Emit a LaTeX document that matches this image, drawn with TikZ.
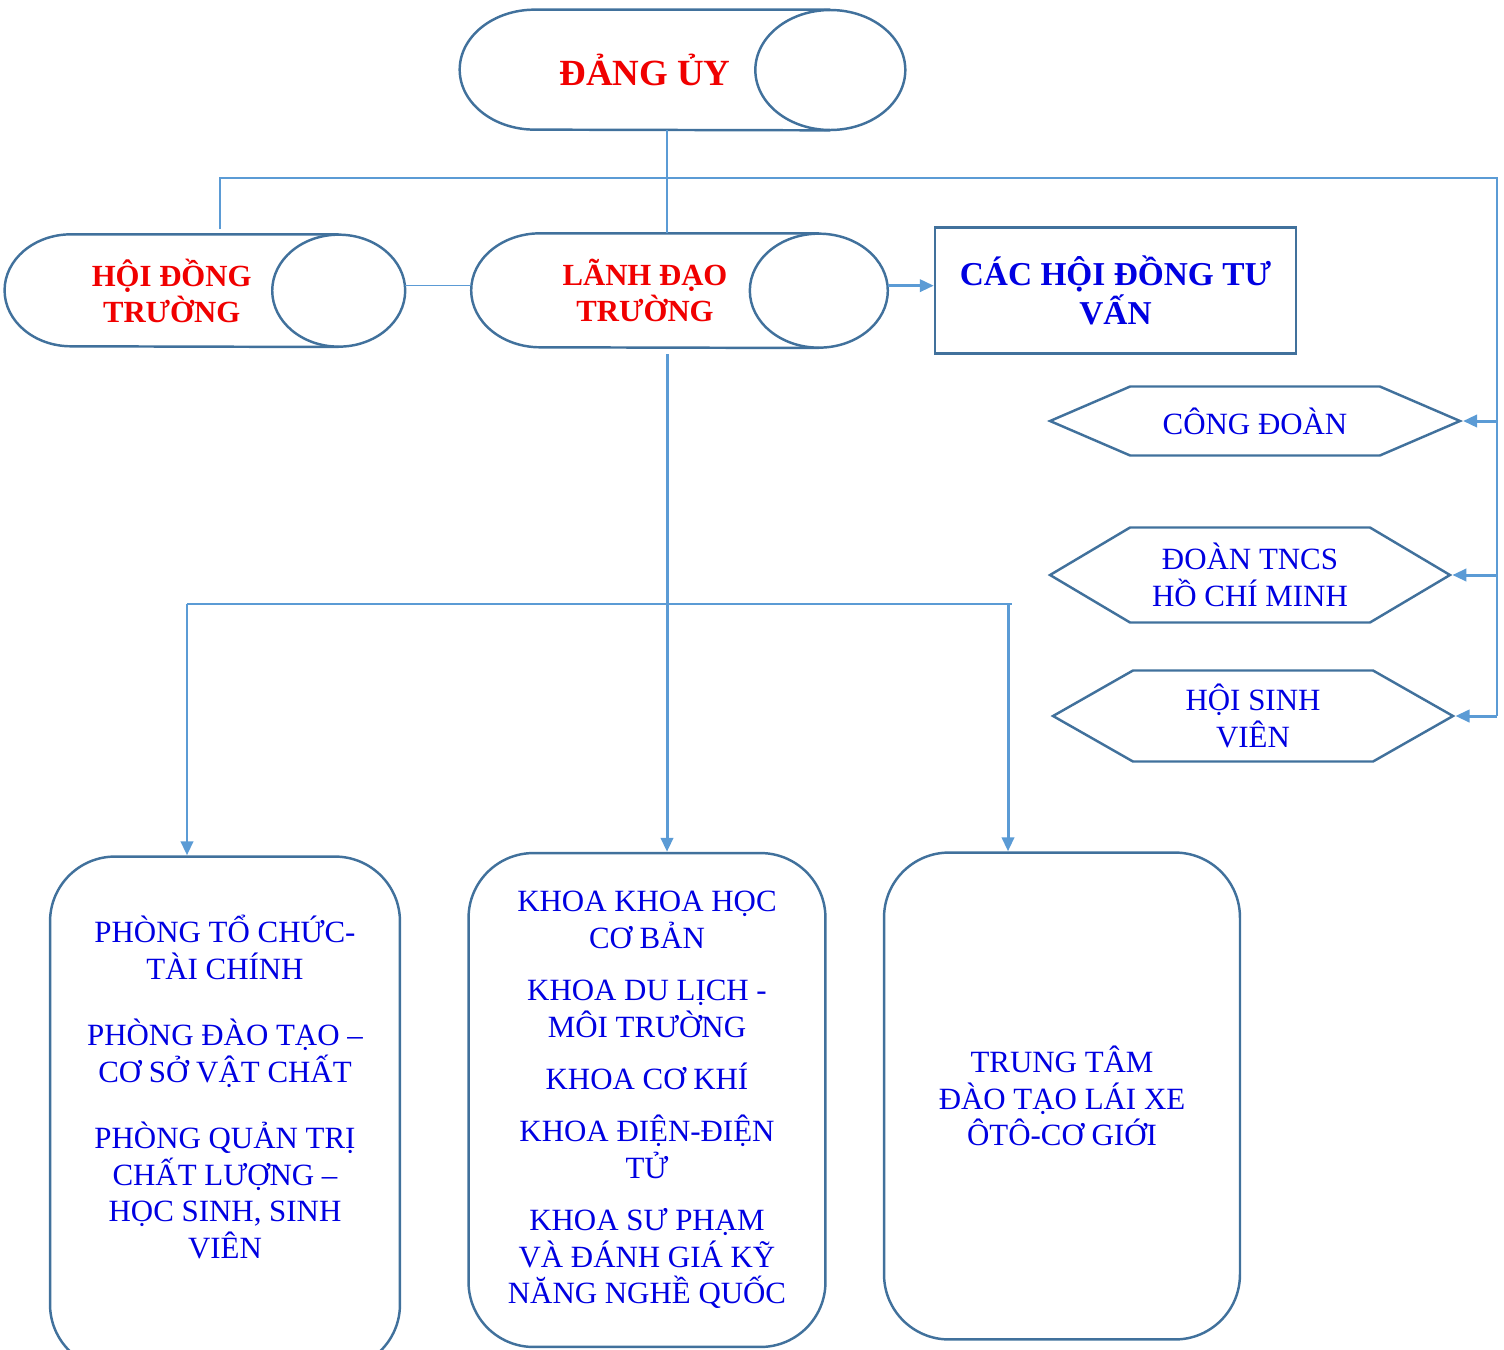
\documentclass[tikz,border=0pt]{standalone}
\usepackage{fontspec}
\setmainfont{Liberation Serif}
\usetikzlibrary{positioning}
\usetikzlibrary{calc}
\usetikzlibrary{arrows.meta}
\usetikzlibrary{shapes.symbols}
\definecolor{edgeblue}{RGB}{65,113,156}
\definecolor{linkblue}{RGB}{91,155,213}
\definecolor{titlered}{RGB}{240,0,0}
\definecolor{textblue}{RGB}{0,0,225}

\tikzset{
  can/.style={rectangle, align=center, text=titlered, font=\fontsize{17.5}{20.5}\selectfont\bfseries},
  canline/.style={draw=edgeblue, line width=1.4pt},
  hexa/.style={signal, signal to=east and west, draw=edgeblue, line width=1.4pt,
    align=center, text=textblue, font=\fontsize{17.6}{21}\selectfont},
  unit/.style={rectangle, rounded corners=1.3cm, draw=edgeblue, line width=1.4pt,
    align=center, text=textblue, font=\fontsize{17.6}{20.8}\selectfont},
  thinlink/.style={draw=linkblue, line width=0.9pt},
  thicklink/.style={draw=linkblue, line width=1.7pt},
}

\begin{document}
\begin{tikzpicture}[x=0.02cm, y=-0.02cm, >={Triangle[length=8pt,width=7pt]}]
        \useasboundingbox (0,0) rectangle (1504,1349);

        % nodes %
        \node[can, minimum width=7.4cm, minimum height=2.4cm,
          font=\fontsize{21}{25}\selectfont\bfseries] (dang) at (645,70) {ĐẢNG ỦY};
        \node[can, below=2.06cm of dang, minimum width=6.94cm, minimum height=2.28cm] (lanh) {LÃNH ĐẠO\\TRƯỜNG};
        \node[can, left=2.65cm of lanh, minimum width=6.67cm, minimum height=2.24cm] (hoidong) {HỘI ĐỒNG\\TRƯỜNG};
        \node[draw=edgeblue, line width=1.4pt, right=2.3cm of lanh, minimum width=7.22cm, minimum height=2.52cm,
          align=center, text=textblue, font=\fontsize{19}{22}\selectfont\bfseries] (tuvan) {CÁC HỘI ĐỒNG TƯ\\VẤN};

        % can outlines: body, left cap and front ellipse %
        \foreach \n/\rx/\ry in {dang/1.5/1.2, lanh/1.38/1.14, hoidong/1.33/1.12} {
          \draw[canline] (\n.north east) -- ([xshift=\rx cm]\n.north west)
            arc[start angle=90, end angle=270, x radius=\rx cm, y radius=\ry cm] -- (\n.south east);
          \draw[canline] (\n.east) ellipse[x radius=\rx cm, y radius=\ry cm];
        }

        \node[hexa, minimum width=8.2cm, minimum height=1.38cm, signal pointer angle=46.6] (congdoan) at (1255,421) {CÔNG ĐOÀN};
        \node[hexa, minimum width=8cm, minimum height=1.9cm, signal pointer angle=61.4] (doan) at (1250,575) {ĐOÀN TNCS\\HỒ CHÍ MINH};
        \node[hexa, minimum width=8cm, minimum height=1.82cm, signal pointer angle=59.3] (hsv) at (1253,716) {HỘI SINH\\VIÊN};

        \node[unit, minimum width=7cm, minimum height=10.26cm] (phong) at (225,1113) {};
        \node[align=center, text=textblue, font=\fontsize{17.6}{20.8}\selectfont] (phongtext) at (225,1087)
          {PHÒNG TỔ CHỨC-\\TÀI CHÍNH\\[17pt]PHÒNG ĐÀO TẠO –\\CƠ SỞ VẬT CHẤT\\[17pt]PHÒNG QUẢN TRỊ\\CHẤT LƯỢNG –\\HỌC SINH, SINH\\VIÊN};
        \node[unit, minimum width=7.14cm, minimum height=9.88cm] (khoa) at (647,1100)
          {KHOA KHOA HỌC\\CƠ BẢN\\[9pt]KHOA DU LỊCH -\\MÔI TRƯỜNG\\[9pt]KHOA CƠ KHÍ\\[9pt]KHOA ĐIỆN-ĐIỆN\\TỬ\\[9pt]KHOA SƯ PHẠM\\VÀ ĐÁNH GIÁ KỸ\\NĂNG NGHỀ QUỐC};
        \node[unit, minimum width=7.12cm, minimum height=9.74cm] (trungtam) at (1062,1096)
          {TRUNG TÂM\\ĐÀO TẠO LÁI XE\\ÔTÔ-CƠ GIỚI};

        % bus points %
        \coordinate (trunk) at (667,178);
        \coordinate (busL) at (220,178);
        \coordinate (busR) at (1497,178);
        \coordinate (lowL) at (187,604);
        \coordinate (lowR) at (1008,604);

        % edges %
        \draw[thinlink] (trunk |- dang.south) -- (trunk |- lanh.north);
        \draw[thinlink] (busL |- hoidong.north) ++(0,-5) -- (busL) -- (busR) -- (busR |- hsv.east);
        \foreach \n in {congdoan,doan,hsv}
          \draw[thicklink, ->] (busR |- \n.east) -- (\n.east);
        \draw[thinlink] ([xshift=1.33cm, yshift=0.1cm]hoidong.east) -- ([yshift=0.1cm]lanh.west);
        \draw[thicklink, ->] ([xshift=1.38cm, yshift=0.1cm]lanh.east) -- ([yshift=0.1cm]tuvan.west);
        \draw[thicklink, ->] ([yshift=-0.12cm]trunk |- lanh.south) -- (trunk |- khoa.north);
        \draw[thinlink] (lowL) -- ($(lowR)+(4,0)$);
        \draw[thicklink, ->] (lowL) -- (lowL |- phong.north);
        \draw[thicklink, ->] (lowR) -- (lowR |- trungtam.north);
\end{tikzpicture}
\end{document}
